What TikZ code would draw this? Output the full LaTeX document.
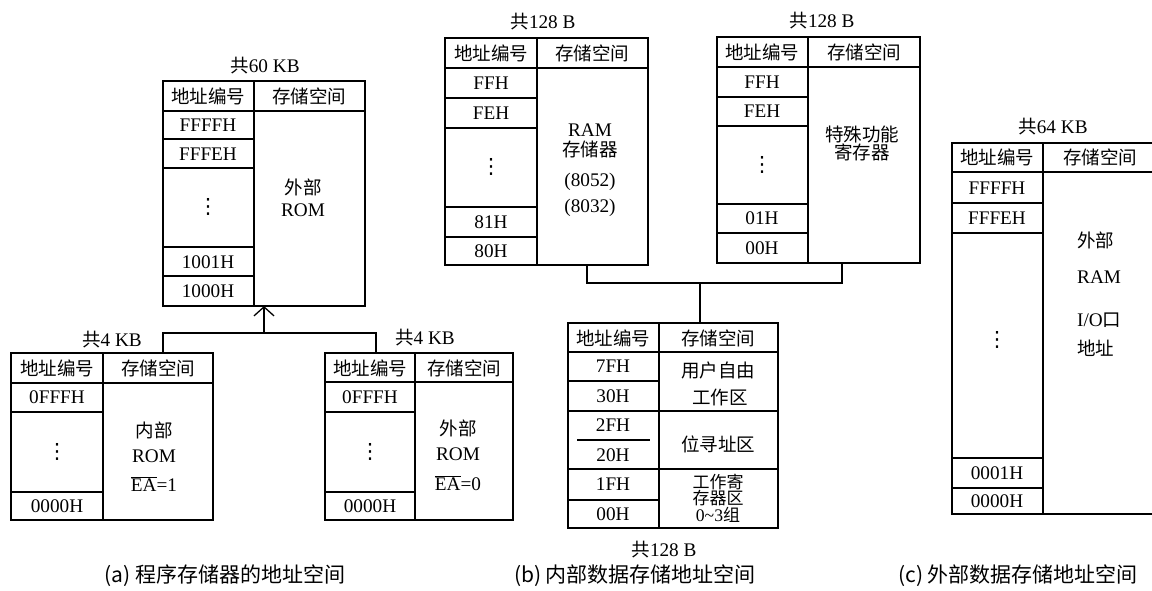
\documentclass[tikz,border=0pt]{standalone}
\usepackage{fontspec}
\setmainfont[Scale=1.04]{Liberation Serif}
\newfontfamily\cjk{Noto Sans CJK SC}
\newfontfamily\dejavu{DejaVu Sans}
\usetikzlibrary{arrows.meta}
\newcommand\zh[1]{{\cjk #1}}
\newcommand\vd{{\dejavu\fontsize{21}{21}\selectfont ⋮}}
\newcommand\ovEA{\ensuremath{\overline{\hbox{EA}}}}
\begin{document}
\begin{tikzpicture}[x=1pt,y=-1pt,
  frame/.style={draw, line width=1.5pt, anchor=north west, inner sep=0pt, outer sep=0pt},
  ln/.style={line width=1.5pt},
  conn/.style={line width=1.3pt},
  txt/.style={inner sep=0pt, font=\fontsize{18.5}{20}\selectfont},
  two/.style={inner sep=0pt, align=center, font=\fontsize{18.5}{#1}\selectfont},
  three/.style={inner sep=0pt, align=center, font=\fontsize{17}{15.5}\selectfont},
  captext/.style={inner sep=0pt, font=\cjk\fontsize{21}{23}\selectfont}]
\useasboundingbox (0,0) rectangle (1152,590);
\clip (0,0) rectangle (1152,590);

% ---------- (a) top table: 60 KB ----------
\node[frame, minimum width=202pt, minimum height=225pt] (tA) at (163,81) {};
\draw[ln] (254,81) -- (254,306);
\draw[ln] (163,111) -- (365,111);
\foreach \y in {139,168,247,276} \draw[ln] (163,\y) -- (254,\y);
\node[txt] (aT) at (265,66) {\zh{共}60 KB};
\node[txt] (aH1) at (208,96) {\zh{地址编号}};
\node[txt] (aH2) at (309,96) {\zh{存储空间}};
\node[txt] (a1) at (208,125) {FFFFH};
\node[txt] (a2) at (208,154) {FFFEH};
\node[txt] (a3) at (208,207) {\vd};
\node[txt] (a4) at (208,262) {1001H};
\node[txt] (a5) at (208,291) {1000H};
\node[txt] (a6) at (303,187) {\zh{外部}};
\node[txt] (a7) at (303,210) {ROM};

% ---------- (a) bottom-left table: 4 KB internal ----------
\node[frame, minimum width=202pt, minimum height=167pt] (tB1) at (11,353) {};
\draw[ln] (103,353) -- (103,520);
\draw[ln] (11,383) -- (213,383);
\foreach \y in {412,492} \draw[ln] (11,\y) -- (103,\y);
\node[txt] (bT) at (112,340) {\zh{共}4 KB};
\node[txt] (bH1) at (57,368) {\zh{地址编号}};
\node[txt] (bH2) at (158,368) {\zh{存储空间}};
\node[txt] (b1) at (57,397) {0FFFH};
\node[txt] (b2) at (57,452) {\vd};
\node[txt] (b3) at (57,506) {0000H};
\node[txt] (b4) at (154,430) {\zh{内部}};
\node[txt] (b5) at (154,456) {ROM};
\node[txt] (b6) at (154,484) {\ovEA=1};

% ---------- (a) bottom-right table: 4 KB external ----------
\node[frame, minimum width=188pt, minimum height=167pt] (tB2) at (325,353) {};
\draw[ln] (415,353) -- (415,520);
\draw[ln] (325,382) -- (513,382);
\foreach \y in {412,492} \draw[ln] (325,\y) -- (415,\y);
\node[txt] (cT) at (425,338) {\zh{共}4 KB};
\node[txt] (cH1) at (370,368) {\zh{地址编号}};
\node[txt] (cH2) at (464,368) {\zh{存储空间}};
\node[txt] (c1) at (370,397) {0FFFH};
\node[txt] (c2) at (370,452) {\vd};
\node[txt] (c3) at (370,506) {0000H};
\node[txt] (c4) at (458,428) {\zh{外部}};
\node[txt] (c5) at (458,454) {ROM};
\node[txt] (c6) at (458,483) {\ovEA=0};

% connectors (a)
\coordinate (jL) at (163,333);
\coordinate (jR) at (376,333);
\coordinate (jA) at (264,333);
\draw[conn] (jL |- tB1.north) -- (jL) -- (jR) -- (jR |- tB2.north);
\draw[conn,-{Straight Barb[length=9pt,width=20pt,line width=1.3pt]}] (jA) -- (tA.south);

% ---------- (b) RAM table ----------
\node[frame, minimum width=203pt, minimum height=227pt] (tC1) at (445,38) {};
\draw[ln] (537,38) -- (537,265);
\draw[ln] (445,68) -- (648,68);
\foreach \y in {98,128,207,237} \draw[ln] (445,\y) -- (537,\y);
\node[txt] (dT) at (543,22) {\zh{共}128 B};
\node[txt] (dH1) at (491,53) {\zh{地址编号}};
\node[txt] (dH2) at (592,53) {\zh{存储空间}};
\node[txt] (d1) at (491,83) {FFH};
\node[txt] (d2) at (491,113) {FEH};
\node[txt] (d3) at (491,167) {\vd};
\node[txt] (d4) at (491,222) {81H};
\node[txt] (d5) at (491,251) {80H};
\node[two=19.5] (d6) at (590,141) {RAM\\\zh{存储器}};
\node[txt] (d8) at (590,182) {(8052)};
\node[txt] (d9) at (590,208) {(8032)};

% ---------- (b) SFR table ----------
\node[frame, minimum width=203pt, minimum height=226pt] (tC2) at (717,37) {};
\draw[ln] (808,37) -- (808,263);
\draw[ln] (717,67) -- (920,67);
\foreach \y in {97,126,204,233} \draw[ln] (717,\y) -- (808,\y);
\node[txt] (eT) at (822,21) {\zh{共}128 B};
\node[txt] (eH1) at (762,52) {\zh{地址编号}};
\node[txt] (eH2) at (864,52) {\zh{存储空间}};
\node[txt] (e1) at (762,82) {FFH};
\node[txt] (e2) at (762,111) {FEH};
\node[txt] (e3) at (762,165) {\vd};
\node[txt] (e4) at (762,218) {01H};
\node[txt] (e5) at (762,248) {00H};
\node[two=18] (e6) at (862,143) {\zh{特殊功能}\\\zh{寄存器}};

% ---------- (b) lower 128 B table ----------
\node[frame, minimum width=210pt, minimum height=205pt] (tD) at (568,323) {};
\draw[ln] (659,323) -- (659,528);
\draw[ln] (568,352) -- (778,352);
\draw[ln] (568,381) -- (659,381);
\draw[ln] (568,411) -- (778,411);
\draw[ln] (577,440) -- (650,440);
\draw[ln] (568,469) -- (778,469);
\draw[ln] (568,500) -- (659,500);
\node[txt] (fT) at (664,550) {\zh{共}128 B};
\node[txt] (fH1) at (613,338) {\zh{地址编号}};
\node[txt] (fH2) at (718,338) {\zh{存储空间}};
\node[txt] (f1) at (613,366) {7FH};
\node[txt] (f2) at (613,396) {30H};
\node[txt] (f3) at (613,425) {2FH};
\node[txt] (f4) at (613,455) {20H};
\node[txt] (f5) at (613,484) {1FH};
\node[txt] (f6) at (613,514) {00H};
\node[txt] (f7) at (718,370) {\zh{用户自由}};
\node[txt] (f8) at (720,397) {\zh{工作区}};
\node[txt] (f9) at (718,444) {\zh{位寻址区}};
\node[three] (f10) at (718,498) {\zh{工作寄}\\\zh{存器区}\\0\textasciitilde 3\zh{组}};

% connectors (b)
\coordinate (kL) at (587,283);
\coordinate (kR) at (842,283);
\coordinate (kM) at (700,283);
\draw[conn] (kL |- tC1.south) -- (kL) -- (kR) -- (kR |- tC2.south);
\draw[conn] (kM) -- (kM |- tD.north);

% ---------- (c) external 64 KB table ----------
\node[frame, minimum width=206pt, minimum height=371pt] (tE) at (952,143) {};
\draw[ln] (1043,143) -- (1043,514);
\draw[ln] (952,172) -- (1158,172);
\foreach \y in {203,233,458,488} \draw[ln] (952,\y) -- (1043,\y);
\node[txt] (gT) at (1053,127) {\zh{共}64 KB};
\node[txt] (gH1) at (997,157) {\zh{地址编号}};
\node[txt] (gH2) at (1100,157) {\zh{存储空间}};
\node[txt] (g1) at (997,188) {FFFFH};
\node[txt] (g2) at (997,218) {FFFEH};
\node[txt] (g3) at (997,340) {\vd};
\node[txt] (g4) at (997,473) {0001H};
\node[txt] (g5) at (997,501) {0000H};
\node[txt, anchor=west] (g6) at (1077,240) {\zh{外部}};
\node[txt, anchor=west] (g7) at (1077,277) {RAM};
\node[txt, anchor=west] (g8) at (1077,320) {I/O\zh{口}};
\node[txt, anchor=west] (g9) at (1077,348) {\zh{地址}};

% ---------- captions ----------
\node[captext] (capA) at (225,576) {(a) 程序存储器的地址空间};
\node[captext] (capB) at (635,576) {(b) 内部数据存储地址空间};
\node[captext] (capC) at (1018,576) {(c) 外部数据存储地址空间};
\end{tikzpicture}
\end{document}
